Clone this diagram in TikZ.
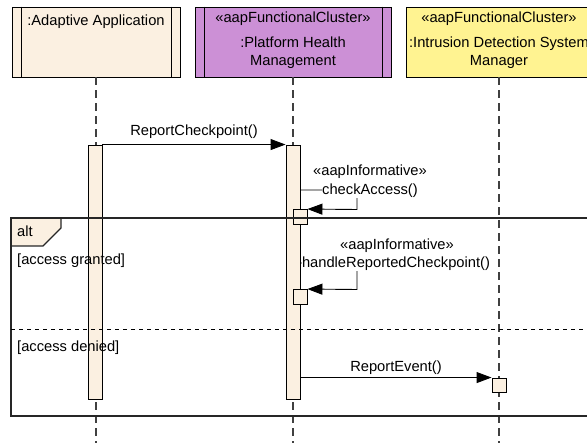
\documentclass[tikz,border=0pt]{standalone}
\usepackage{fontspec}
\setmainfont{Liberation Sans}
\usepackage{xcolor}
\usepackage{tikz}
\usetikzlibrary{arrows.meta,positioning}
\definecolor{appbeige}{RGB}{251,240,225}
\definecolor{fcpurple}{RGB}{204,144,214}
\definecolor{fcyellow}{RGB}{255,243,145}
\tikzset{
  head/.style={draw=black, line width=0.9pt, minimum height=70pt, inner sep=0pt},
  lifeline/.style={draw=black!75, line width=1.2pt, dash pattern=on 8pt off 5pt},
  actbar/.style={draw=black, fill=appbeige, line width=0.9pt, minimum width=14pt, inner sep=0pt},
  msg/.style={draw=black, line width=0.9pt, -{Triangle[length=15pt,width=11pt]}},
  frame/.style={draw=black!85, line width=1.4pt},
  txt/.style={inner sep=0pt, anchor=base},
}

\begin{document}
\begin{tikzpicture}[x=1pt,y=-1pt,font=\fontsize{14.7}{17}\selectfont]
\useasboundingbox (0,0) rectangle (587,443);
\coordinate (bottom) at (0,443);

\node[head, fill=appbeige, minimum width=168pt] (hApp) at (96,42) {};
\node[head, fill=fcpurple, minimum width=196pt] (hPhm) at (293,42) {};
\node[head, fill=fcyellow, minimum width=186pt] (hIds) at (499,42) {};
\draw[line width=0.9pt] ([xshift=9.5pt]hApp.north west) -- ([xshift=9.5pt]hApp.south west);
\draw[line width=0.9pt] ([xshift=-9.5pt]hApp.north east) -- ([xshift=-9.5pt]hApp.south east);
\draw[line width=0.9pt] ([xshift=9.5pt]hPhm.north west) -- ([xshift=9.5pt]hPhm.south west);
\draw[line width=0.9pt] ([xshift=-9.5pt]hPhm.north east) -- ([xshift=-9.5pt]hPhm.south east);

\node[txt] at ([yshift=-19pt]hApp.north) {:Adaptive Application};
\node[txt] at ([yshift=-16pt]hPhm.north) {«aapFunctionalCluster»};
\node[txt] at ([yshift=-41pt]hPhm.north) {:Platform Health};
\node[txt] at ([yshift=-59pt]hPhm.north) {Management};
\node[txt] at ([yshift=-16pt]hIds.north) {«aapFunctionalCluster»};
\node[txt] at ([yshift=-41pt]hIds.north) {:Intrusion Detection System};
\node[txt] at ([yshift=-59pt]hIds.north) {Manager};

\draw[lifeline] (hApp.south) -- (hApp.south |- bottom);
\draw[lifeline] (hPhm.south) -- (hPhm.south |- bottom);
\draw[lifeline] (hIds.south) -- (hIds.south |- bottom);

\node[actbar, minimum height=254pt] (bApp) at (95,272) {};
\node[actbar, minimum height=254pt] (bPhm) at (293,272) {};
\node[actbar, minimum height=15pt] (sb1) at (300,217) {};
\node[actbar, minimum height=15pt] (sb2) at (300,297) {};
\node[actbar, minimum height=14pt] (sb3) at (499,385) {};

\draw[msg] (bApp.north east) -- (bPhm.north west)
  node[midway, txt, yshift=9pt] {ReportCheckpoint()};

\node[txt] (st1) at (370,176) {«aapInformative»};
\draw[msg] (bPhm.east |- 0,190) -| (357,209.5) -- (sb1.north east);
\node[txt, fill=white] (ca) at (370,195) {checkAccess()};

\node[txt] (st2) at (397,250) {«aapInformative»};
\draw[msg] (bPhm.east |- 0,263) -| (357,289.5) -- (sb2.north east);
\node[txt, fill=white] (hc) at (396,268) {handleReportedCheckpoint()};

\draw[msg] (bPhm.east |- sb3.north) -- (sb3.north west)
  node[midway, txt, yshift=6pt] {ReportEvent()};

\fill[appbeige] (11,218) -- (61,218) -- (61,228) -- (43,246) -- (11,246) -- cycle;
\draw[frame] (61,218) -- (61,228) -- (43,246) -- (11,246);
\draw[frame] (11,218) rectangle (600,416);
\draw[black, line width=1pt, dash pattern=on 4pt off 4pt] (11,330) -- (600,330);

\node[txt, anchor=base west] (alt) at (17,237) {alt};
\node[txt, anchor=base west] (g1) at (17,265) {[access granted]};
\node[txt, anchor=base west] (g2) at (17,352) {[access denied]};
\end{tikzpicture}
\end{document}
